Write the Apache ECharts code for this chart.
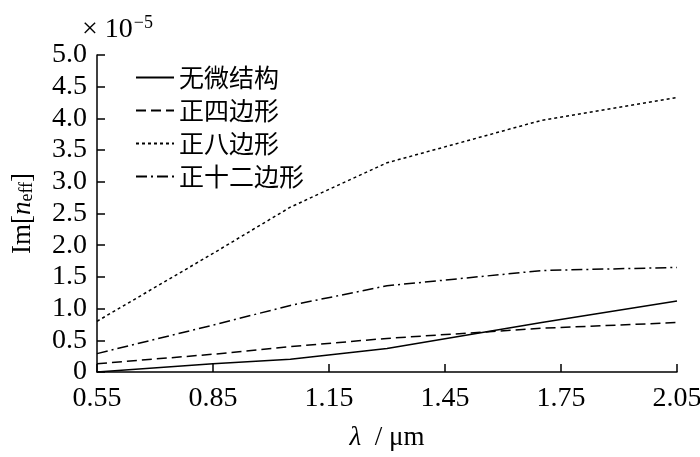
<!DOCTYPE html>
<html>
<head>
<meta charset="utf-8">
<script src="https://cdn.jsdelivr.net/npm/echarts@6/dist/echarts.min.js"></script>
<style>
  html, body { margin: 0; padding: 0; background: #fff; }
  #chart { width: 700px; height: 457px; }
</style>
</head>
<body>
<div id="chart"></div>
<script>
// wavelength (um) and Im[n_eff] (x1e-5)
const lambda = [0.55, 0.85, 1.05, 1.3, 1.7, 2.05]
const noStructure = [0.0, 0.13, 0.2, 0.37, 0.78, 1.12]
const square = [0.13, 0.28, 0.4, 0.53, 0.69, 0.78]
const octagon = [0.8, 1.87, 2.6, 3.3, 3.97, 4.33]
const dodecagon = [0.29, 0.74, 1.05, 1.36, 1.6, 1.65]
const seriesNames = ['无微结构', '正四边形', '正八边形', '正十二边形']
const xTicks = [0.55, 0.85, 1.15, 1.45, 1.75, 2.05]

const serif = '"Liberation Serif", "Times New Roman", serif'
const cjk = '"Noto Sans CJK SC", sans-serif'

function pairs(ys) {
  return lambda.map((x, i) => [x, ys[i]])
}

function line(name, ys, type) {
  return {
    name: name,
    type: 'line',
    data: pairs(ys),
    symbol: 'none',
    smooth: false,
    lineStyle: { color: '#000', width: 1.5, type: type },
    itemStyle: { color: '#000' }
  }
}

const chart = echarts.init(document.getElementById('chart'))
chart.setOption({
  animation: false,
  backgroundColor: '#fff',
  grid: { left: 97, right: 23, top: 55, bottom: 85, containLabel: false, outerBoundsMode: 'none' },
  legend: {
    orient: 'vertical',
    left: 130,
    top: 60,
    itemWidth: 38,
    itemHeight: 14,
    itemGap: 8,
    itemStyle: { opacity: 0 },
    textStyle: { fontFamily: cjk, fontSize: 25, color: '#000' },
    data: seriesNames
  },
  xAxis: {
    type: 'value',
    min: 0.55,
    max: 2.05,
    name: '{i|λ}{t|  / μm}',
    nameLocation: 'middle',
    nameGap: 52,
    nameTextStyle: {
      rich: {
        i: { fontFamily: serif, fontStyle: 'italic', fontSize: 27, color: '#000' },
        t: { fontFamily: serif, fontSize: 27, color: '#000' }
      }
    },
    splitLine: { show: false },
    axisLine: { lineStyle: { color: '#000', width: 1.5 } },
    axisTick: { inside: true, length: 8, customValues: xTicks, lineStyle: { color: '#000', width: 1.5 } },
    axisLabel: {
      customValues: xTicks,
      margin: 13,
      fontFamily: serif,
      fontSize: 28,
      color: '#000',
      formatter: v => v.toFixed(2)
    }
  },
  yAxis: {
    type: 'value',
    min: 0,
    max: 5,
    interval: 0.5,
    name: '{a|Im[}{n|n}{s|eff}{a|]}',
    nameLocation: 'middle',
    nameGap: 61,
    nameRotate: 90,
    nameTextStyle: {
      rich: {
        a: { fontFamily: serif, fontSize: 27, color: '#000' },
        n: { fontFamily: serif, fontStyle: 'italic', fontSize: 27, color: '#000' },
        s: { fontFamily: serif, fontSize: 18, color: '#000', verticalAlign: 'bottom', padding: [8, 0, 0, 0] }
      }
    },
    splitLine: { show: false },
    axisLine: { show: true, lineStyle: { color: '#000', width: 1.5 } },
    axisTick: { inside: true, length: 8, lineStyle: { color: '#000', width: 1.5 } },
    axisLabel: {
      margin: 10,
      fontFamily: serif,
      fontSize: 28,
      color: '#000',
      formatter: v => (v === 0 ? '0' : v.toFixed(1))
    }
  },
  graphic: [{
    type: 'text',
    left: 82,
    top: 14,
    style: {
      text: '{a|× 10}{e|−5}',
      rich: {
        a: { fontFamily: serif, fontSize: 28, fill: '#000' },
        e: { fontFamily: serif, fontSize: 18, fill: '#000', verticalAlign: 'top', padding: [0, 0, 14, 1] }
      }
    }
  }],
  series: [
    line(seriesNames[0], noStructure, 'solid'),
    line(seriesNames[1], square, [10, 5]),
    line(seriesNames[2], octagon, [3, 3]),
    line(seriesNames[3], dodecagon, [11, 4, 2, 4])
  ]
})
</script>
</body>
</html>
